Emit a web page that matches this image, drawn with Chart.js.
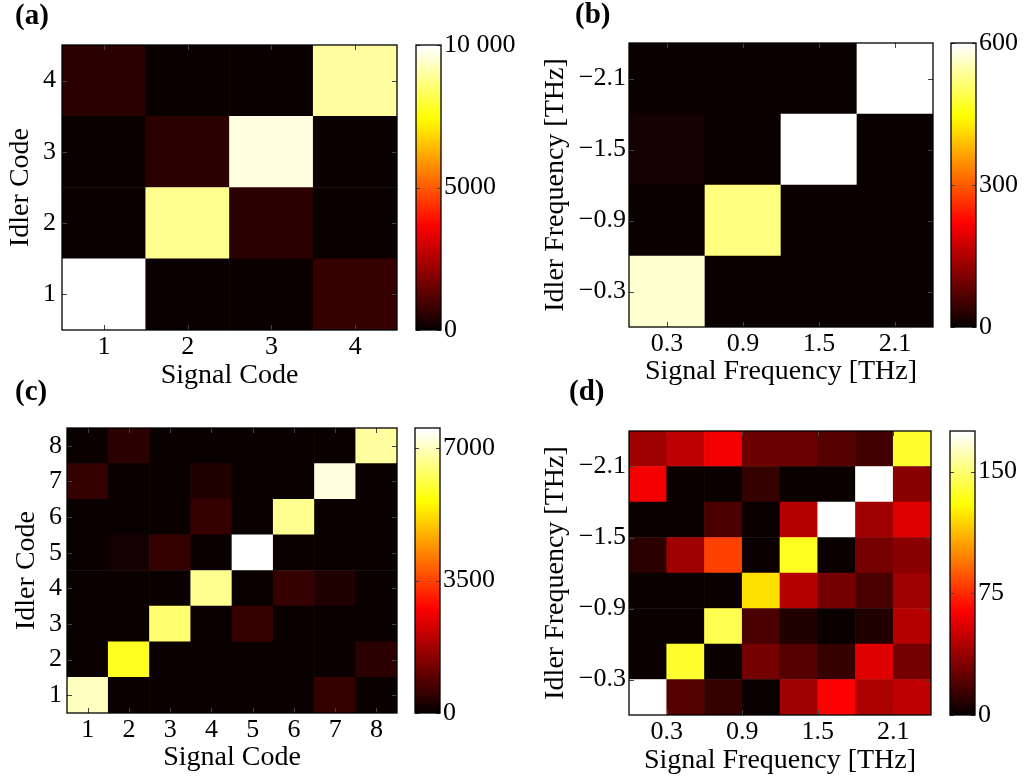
<!DOCTYPE html>
<html>
<head>
<meta charset="utf-8">
<script src="https://cdn.jsdelivr.net/npm/chart.js@4/dist/chart.umd.min.js"></script>
<style>
  html, body { margin: 0; padding: 0; background: #fff; }
  #fig { position: relative; width: 1025px; height: 782px; overflow: hidden; background: #fff; }
  #fig canvas { position: absolute; }
</style>
</head>
<body>
<div id="fig"></div>
<script>
// ---- (a) spectral code assignment, 4 codes ----
const aSignalCode = [1, 2, 3, 4];
const aIdlerCode = [1, 2, 3, 4];
const aSignalLabels = ['1', '2', '3', '4'];
const aIdlerLabels = ['1', '2', '3', '4'];
// rows: idler code 1..4, columns: signal code 1..4
const aCounts = [
  [10000, 90, 80, 700],
  [70, 8830, 560, 110],
  [100, 550, 9610, 60],
  [540, 90, 70, 8980]
];
const aScaleMax = 10000;
const aScaleTicks = [0, 5000, 10000];
const aScaleLabels = ['0', '5000', '10 000'];

// ---- (b) frequency bins, 4 bins ----
const bSignalFreq = [0.3, 0.9, 1.5, 2.1];
const bIdlerFreq = [-0.3, -0.9, -1.5, -2.1];
const bSignalLabels = ['0.3', '0.9', '1.5', '2.1'];
const bIdlerLabels = ['\u22120.3', '\u22120.9', '\u22121.5', '\u22122.1'];
// rows: idler -0.3 .. -2.1, columns: signal 0.3 .. 2.1
const bCounts = [
  [567, 4, 3, 2],
  [5, 520, 4, 3],
  [14, 6, 600, 5],
  [4, 3, 5, 596]
];
const bScaleMax = 600;
const bScaleTicks = [0, 300, 600];
const bScaleLabels = ['0', '300', '600'];

// ---- (c) spectral code assignment, 8 codes ----
const cSignalCode = [1, 2, 3, 4, 5, 6, 7, 8];
const cIdlerCode = [1, 2, 3, 4, 5, 6, 7, 8];
const cSignalLabels = ['1', '2', '3', '4', '5', '6', '7', '8'];
const cIdlerLabels = ['1', '2', '3', '4', '5', '6', '7', '8'];
// rows: idler code 1..8, columns: signal code 1..8
const cCounts = [
  [7000, 80, 60, 90, 70, 100, 530, 50],
  [60, 5880, 90, 70, 80, 60, 90, 470],
  [70, 90, 6410, 60, 480, 80, 70, 90],
  [80, 60, 90, 6600, 100, 500, 260, 60],
  [90, 230, 490, 70, 7530, 60, 80, 70],
  [60, 80, 70, 510, 90, 6650, 70, 80],
  [520, 70, 90, 240, 60, 80, 7240, 90],
  [70, 470, 60, 80, 90, 70, 60, 6770]
];
const cScaleMax = 7530;
const cScaleTicks = [0, 3500, 7000];
const cScaleLabels = ['0', '3500', '7000'];

// ---- (d) frequency bins, 8 bins ----
const dSignalFreq = [0.15, 0.45, 0.75, 1.05, 1.35, 1.65, 1.95, 2.25];
const dIdlerFreq = [-0.15, -0.45, -0.75, -1.05, -1.35, -1.65, -1.95, -2.25];
const dSignalTicks = [0.3, 0.9, 1.5, 2.1];
const dIdlerTicks = [-0.3, -0.9, -1.5, -2.1];
const dSignalLabels = ['0.3', '0.9', '1.5', '2.1'];
const dIdlerLabels = ['\u22120.3', '\u22120.9', '\u22121.5', '\u22122.1'];
// rows: idler -0.15 .. -2.25, columns: signal 0.15 .. 2.25
const dCounts = [
  [173, 21, 12, 1, 40, 64, 42, 48],
  [1, 137, 2, 29, 21, 12, 56, 29],
  [1, 1, 144, 18, 7, 1, 7, 45],
  [1, 2, 1, 122, 45, 29, 18, 40],
  [10, 40, 81, 1, 135, 1, 29, 34],
  [1, 2, 18, 1, 45, 174, 40, 56],
  [62, 1, 2, 12, 1, 2, 175, 34],
  [40, 48, 61, 26, 26, 21, 15, 138]
];
const dScaleMax = 175;
const dScaleTicks = [0, 75, 150];
const dScaleLabels = ['0', '75', '150'];

// ---------------------------------------------------------------
const FAMILY = "'Liberation Serif', 'Times New Roman', serif";
const TICK_FONT = { family: FAMILY, size: 26, lineHeight: 1.2 };
const TITLE_FONT = { family: FAMILY, size: 28, lineHeight: 1.2 };
const TITLE_LH = 28 * 1.2;
const LABEL_FONT = 'bold 29px ' + FAMILY;

Chart.defaults.color = '#000';
Chart.defaults.font.family = FAMILY;

// MATLAB-style "hot" colormap with 64 levels
function hot(t) {
  const n = 64;
  const i = Math.min(n, Math.max(1, Math.floor(t * n) + 1));
  const r = Math.min(1, i / 24);
  const g = Math.min(1, Math.max(0, (i - 24) / 24));
  const b = Math.min(1, Math.max(0, (i - 48) / 16));
  return 'rgb(' + Math.round(r * 255) + ',' + Math.round(g * 255) + ',' + Math.round(b * 255) + ')';
}

// axes box with inward tick marks
const framePlugin = {
  id: 'frame',
  afterDatasetsDraw(chart, args, o) {
    const ctx = chart.ctx, a = chart.chartArea;
    ctx.save();
    ctx.strokeStyle = o.tickColor || '#333';
    ctx.lineWidth = 1;
    ctx.beginPath();
    if (o.xTicks) {
      const s = chart.scales.x;
      s.ticks.forEach(t => {
        const px = Math.round(s.getPixelForValue(t.value)) + 0.5;
        ctx.moveTo(px, a.bottom); ctx.lineTo(px, a.bottom - o.len);
        ctx.moveTo(px, a.top); ctx.lineTo(px, a.top + o.len);
      });
    }
    if (o.yTicks) {
      const s = chart.scales.y;
      s.ticks.forEach(t => {
        const py = Math.round(s.getPixelForValue(t.value)) + 0.5;
        ctx.moveTo(a.left, py); ctx.lineTo(a.left + o.len, py);
        ctx.moveTo(a.right, py); ctx.lineTo(a.right - o.len, py);
      });
    }
    ctx.stroke();
    ctx.strokeStyle = '#000';
    ctx.lineWidth = o.lineWidth || 1.3;
    ctx.strokeRect(a.left, a.top, a.right - a.left, a.bottom - a.top);
    ctx.restore();
  }
};

// bold panel letter
const panelLabelPlugin = {
  id: 'panelLabel',
  afterDraw(chart, args, o) {
    if (!o.text) return;
    const ctx = chart.ctx;
    ctx.save();
    ctx.font = o.font;
    ctx.fillStyle = '#000';
    ctx.textAlign = 'left';
    ctx.textBaseline = 'middle';
    ctx.fillText(o.text, o.x, o.y);
    ctx.restore();
  }
};

const fig = document.getElementById('fig');
function makeCanvas(left, top, w, h) {
  const c = document.createElement('canvas');
  c.width = w; c.height = h;
  c.style.left = left + 'px'; c.style.top = top + 'px';
  c.style.width = w + 'px'; c.style.height = h + 'px';
  fig.appendChild(c);
  return c;
}

function drawHeatmap(p) {
  const hx = Math.abs(p.xs[1] - p.xs[0]) / 2;
  const hy = Math.abs(p.ys[1] - p.ys[0]) / 2;
  const xMin = Math.min(...p.xs) - hx, xMax = Math.max(...p.xs) + hx;
  const yMin = Math.min(...p.ys) - hy, yMax = Math.max(...p.ys) + hy;
  const [pl, pt, pr, pb] = p.plot;

  const left = Math.floor(p.yTitleX - TITLE_LH / 2);
  const top = Math.max(0, p.labelAt[1] - 24);
  const bottomEdge = p.xTitleY + TITLE_LH / 2;
  const w = pr + 8 - left;
  const h = Math.ceil(bottomEdge) - top;
  const padL = p.yTitleX - TITLE_LH / 2 - left;
  const padB = top + h - bottomEdge;
  const yAxisW = pl - left - padL;
  const xAxisH = bottomEdge - pb;

  const canvas = makeCanvas(left, top, w, h);
  new Chart(canvas, {
    type: 'bar',
    data: {
      datasets: p.ys.map((yc, r) => ({
        data: p.xs.map(xc => ({ x: xc, y: [yc - hy, yc + hy] })),
        backgroundColor: p.counts[r].map(v => hot(v / p.max)),
        borderWidth: 0,
        barPercentage: 1,
        categoryPercentage: 1,
        grouped: false
      }))
    },
    options: {
      responsive: false,
      animation: false,
      events: [],
      layout: { padding: { left: padL, top: pt - top, right: w - (pr - left), bottom: padB } },
      plugins: {
        legend: { display: false },
        tooltip: { enabled: false },
        frame: { xTicks: true, yTicks: true, len: 5, lineWidth: 1.3, tickColor: '#444' },
        panelLabel: { text: p.label, x: p.labelAt[0] - left, y: p.labelAt[1] - top, font: LABEL_FONT }
      },
      scales: {
        x: {
          type: 'linear', min: xMin, max: xMax, offset: false,
          grid: { display: false, drawTicks: false }, border: { display: false },
          ticks: { font: TICK_FONT, padding: 2, maxRotation: 0, autoSkip: false,
                   callback: (v, i) => p.xLabels[i] },
          afterBuildTicks: s => { s.ticks = p.xTicks.map(v => ({ value: v })); },
          afterFit: s => { s.height = xAxisH; },
          title: { display: true, text: p.xTitle, font: TITLE_FONT, padding: { top: 0, bottom: 0 } }
        },
        y: {
          type: 'linear', min: yMin, max: yMax, reverse: p.reverseY, offset: false, beginAtZero: false,
          grid: { display: false, drawTicks: false }, border: { display: false },
          ticks: { font: TICK_FONT, padding: p.yTickPad, autoSkip: false,
                   callback: (v, i) => p.yLabels[i] },
          afterBuildTicks: s => { s.ticks = p.yTicks.map(v => ({ value: v })); },
          afterFit: s => { s.width = yAxisW; },
          title: { display: true, text: p.yTitle, font: TITLE_FONT, padding: { top: 0, bottom: 0 } }
        }
      }
    },
    plugins: [framePlugin, panelLabelPlugin]
  });
}

function hotGradient(chart, max) {
  const s = chart.scales.y;
  if (!chart.chartArea || !s) return '#000';
  const y0 = s.getPixelForValue(0), y1 = s.getPixelForValue(max);
  const g = chart.ctx.createLinearGradient(0, y0, 0, y1);
  for (let i = 0; i < 64; i++) {
    const t = (i + 0.5) / 64;
    g.addColorStop(t, hot(t));
  }
  g.addColorStop(0, hot(0));
  g.addColorStop(1, hot(1));
  return g;
}

function drawColorbar(p) {
  const [cl, cr] = p.cbar;
  const pt = p.plot[1], pb = p.plot[3];
  const left = cl - 2, top = pt - 20;
  const axisW = 82;
  const w = (cr - left) + axisW;
  const h = (pb - top) + 20;
  const canvas = makeCanvas(left, top, w, h);
  new Chart(canvas, {
    type: 'bar',
    data: {
      labels: [''],
      datasets: [{
        data: [[0, p.max]],
        backgroundColor: ctx => hotGradient(ctx.chart, p.max),
        borderWidth: 0,
        barPercentage: 1,
        categoryPercentage: 1
      }]
    },
    options: {
      responsive: false,
      animation: false,
      events: [],
      layout: { padding: { left: 2, top: 20, right: 0, bottom: 20 } },
      plugins: {
        legend: { display: false },
        tooltip: { enabled: false },
        frame: { xTicks: false, yTicks: true, len: 4, lineWidth: 1.3, tickColor: '#444' }
      },
      scales: {
        x: { display: false },
        y: {
          position: 'right', min: 0, max: p.max,
          grid: { display: false, drawTicks: false }, border: { display: false },
          ticks: { font: TICK_FONT, padding: 3, autoSkip: false,
                   callback: (v, i) => p.barLabels[i] },
          afterBuildTicks: s => { s.ticks = p.barTicks.map(v => ({ value: v })); },
          afterFit: s => { s.width = axisW; }
        }
      }
    },
    plugins: [framePlugin]
  });
}

const panels = [
  {
    label: '(a)', labelAt: [15, 17], plot: [62, 45, 397, 330], yTitleX: 21, xTitleY: 376, cbar: [416, 441],
    xs: aSignalCode, ys: aIdlerCode, counts: aCounts, max: aScaleMax, reverseY: false,
    xTicks: aSignalCode, xLabels: aSignalLabels, yTicks: aIdlerCode, yLabels: aIdlerLabels, yTickPad: 6,
    xTitle: 'Signal Code', yTitle: 'Idler Code',
    barTicks: aScaleTicks, barLabels: aScaleLabels
  },
  {
    label: '(b)', labelAt: [575, 16], plot: [629, 43, 933, 327], yTitleX: 556, xTitleY: 372, cbar: [951, 976],
    xs: bSignalFreq, ys: bIdlerFreq, counts: bCounts, max: bScaleMax, reverseY: true,
    xTicks: bSignalFreq, xLabels: bSignalLabels, yTicks: bIdlerFreq, yLabels: bIdlerLabels, yTickPad: 3,
    xTitle: 'Signal Frequency [THz]', yTitle: 'Idler Frequency [THz]',
    barTicks: bScaleTicks, barLabels: bScaleLabels
  },
  {
    label: '(c)', labelAt: [15, 393], plot: [67, 428, 397, 713], yTitleX: 27, xTitleY: 758, cbar: [415, 440],
    xs: cSignalCode, ys: cIdlerCode, counts: cCounts, max: cScaleMax, reverseY: false,
    xTicks: cSignalCode, xLabels: cSignalLabels, yTicks: cIdlerCode, yLabels: cIdlerLabels, yTickPad: 5,
    xTitle: 'Signal Code', yTitle: 'Idler Code',
    barTicks: cScaleTicks, barLabels: cScaleLabels
  },
  {
    label: '(d)', labelAt: [569, 393], plot: [629, 431, 931, 715], yTitleX: 556, xTitleY: 761, cbar: [950, 975],
    xs: dSignalFreq, ys: dIdlerFreq, counts: dCounts, max: dScaleMax, reverseY: true,
    xTicks: dSignalTicks, xLabels: dSignalLabels, yTicks: dIdlerTicks, yLabels: dIdlerLabels, yTickPad: 3,
    xTitle: 'Signal Frequency [THz]', yTitle: 'Idler Frequency [THz]',
    barTicks: dScaleTicks, barLabels: dScaleLabels
  }
];

panels.forEach(p => { drawHeatmap(p); drawColorbar(p); });
</script>
</body>
</html>
